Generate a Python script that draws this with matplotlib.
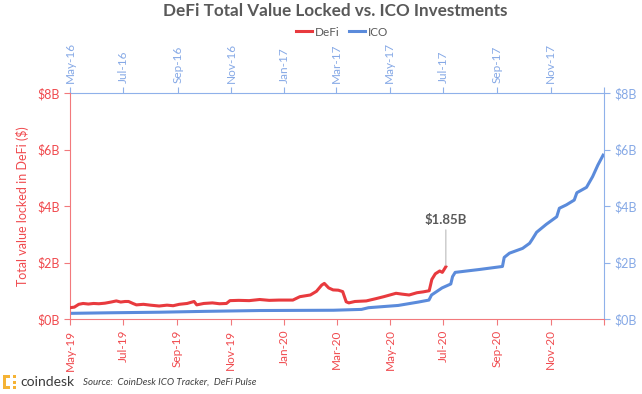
import numpy as np
import pandas as pd
import matplotlib
matplotlib.use("Agg")
from matplotlib import pyplot as plt
import matplotlib.dates as mdates
from matplotlib.ticker import FuncFormatter, MultipleLocator
from matplotlib.patches import Rectangle

plt.rcParams['font.family'] = ['Lato', 'DejaVu Sans']

# DeFi total value locked, billions USD (bottom / left axes)
defi_dates = ["2019-05-01", "2019-05-06", "2019-05-11", "2019-05-16", "2019-05-22", "2019-05-28",
              "2019-06-03", "2019-06-10", "2019-06-17", "2019-06-23", "2019-06-28", "2019-07-03",
              "2019-07-07", "2019-07-12", "2019-07-16", "2019-07-24", "2019-08-01", "2019-08-11",
              "2019-08-20", "2019-08-27", "2019-09-03", "2019-09-12", "2019-09-20", "2019-09-23",
              "2019-10-01", "2019-10-11", "2019-10-19", "2019-10-27", "2019-10-31", "2019-11-10",
              "2019-11-22", "2019-12-04", "2019-12-15", "2019-12-26", "2020-01-11", "2020-01-19",
              "2020-01-31", "2020-02-07", "2020-02-13", "2020-02-16", "2020-02-21", "2020-02-26",
              "2020-03-03", "2020-03-08", "2020-03-12", "2020-03-15", "2020-03-22", "2020-04-04",
              "2020-04-15", "2020-04-24", "2020-05-01", "2020-05-08", "2020-05-15", "2020-05-23",
              "2020-06-01", "2020-06-08", "2020-06-15", "2020-06-18", "2020-06-22", "2020-06-27",
              "2020-06-30", "2020-07-04"]
defi_vals = [0.40, 0.42, 0.52, 0.55, 0.53, 0.55,
             0.54, 0.56, 0.60, 0.64, 0.60, 0.62,
             0.62, 0.55, 0.50, 0.52, 0.49, 0.46,
             0.49, 0.47, 0.52, 0.55, 0.62, 0.50,
             0.55, 0.57, 0.54, 0.55, 0.65, 0.66,
             0.65, 0.69, 0.66, 0.67, 0.67, 0.79,
             0.85, 0.98, 1.20, 1.26, 1.10, 1.03,
             1.02, 0.97, 0.61, 0.57, 0.62, 0.64,
             0.72, 0.79, 0.85, 0.91, 0.88, 0.85,
             0.93, 0.96, 1.00, 1.40, 1.60, 1.70,
             1.65, 1.85]

# ICO investments, billions USD (top / right axes)
ico_dates = ["2016-05-01", "2016-06-15", "2016-08-11", "2016-10-01", "2016-12-04", "2017-02-26",
             "2017-03-30", "2017-04-07", "2017-05-11", "2017-06-03", "2017-06-15", "2017-06-18",
             "2017-06-30", "2017-07-10", "2017-07-12", "2017-07-15", "2017-07-31", "2017-08-11",
             "2017-09-07", "2017-09-09", "2017-09-15", "2017-09-30", "2017-10-08", "2017-10-11",
             "2017-10-16", "2017-10-27", "2017-11-08", "2017-11-11", "2017-11-19", "2017-11-28",
             "2017-12-01", "2017-12-12", "2017-12-19", "2017-12-25", "2017-12-31"]
ico_vals = [0.20, 0.22, 0.24, 0.27, 0.30, 0.31,
            0.34, 0.40, 0.48, 0.60, 0.67, 0.85,
            1.10, 1.24, 1.50, 1.65, 1.71, 1.75,
            1.86, 2.18, 2.33, 2.50, 2.68, 2.82,
            3.07, 3.35, 3.62, 3.92, 4.04, 4.21,
            4.47, 4.66, 5.04, 5.45, 5.80]

title = "DeFi Total Value Locked vs. ICO Investments"
source = "Source:  CoinDesk ICO Tracker,  DeFi Pulse"

red = "#E83A3E"
red_txt = "#F04A4E"
red_spine = "#F2797C"
blue = "#5B8BDB"
blue_txt = "#86A9E6"
blue_spine = "#8FB1EA"
gray = "#595959"

fig = plt.figure(figsize=(6.42, 3.94), dpi=100)
rect = [70 / 642, 1 - 319 / 394, 534 / 642, 226 / 394]
ax = fig.add_axes(rect)
ax2 = fig.add_axes(rect, frameon=False)
ax2.set_zorder(ax.get_zorder() - 1)
ax.patch.set_visible(False)

d_defi = pd.to_datetime(defi_dates)
d_ico = pd.to_datetime(ico_dates)

ax.plot(d_defi, defi_vals, color=red, lw=2.2, label="DeFi", zorder=3)
ax2.plot(d_ico, ico_vals, color=blue, lw=2.2, label="ICO")

# bottom / left
ax.set_xlim(pd.Timestamp("2019-05-01"), pd.Timestamp("2021-01-01"))
ax.set_ylim(0, 8)
ax.xaxis.set_major_locator(mdates.MonthLocator(bymonth=[1, 3, 5, 7, 9, 11]))
ax.xaxis.set_major_formatter(mdates.DateFormatter("%b-%y"))
ax.yaxis.set_major_locator(MultipleLocator(2))
ax.yaxis.set_major_formatter(FuncFormatter(lambda v, p: f"${v:.0f}B"))
ax.tick_params(axis='x', colors=red_spine, labelcolor=red_txt, labelrotation=90,
               labelsize=8.5, length=4, width=0.8)
ax.tick_params(axis='y', colors=red_spine, labelcolor=red_txt, labelsize=9, length=4, width=0.8)
ax.spines['left'].set_color(red_spine)
ax.spines['bottom'].set_color(red_spine)
ax.spines['top'].set_visible(False)
ax.spines['right'].set_visible(False)
ax.set_ylabel("Total value locked in DeFi ($)", color=red_txt, fontsize=9, labelpad=6)

# top / right
ax2.set_xlim(pd.Timestamp("2016-05-01"), pd.Timestamp("2018-01-01"))
ax2.set_ylim(0, 8)
ax2.xaxis.tick_top()
ax2.yaxis.tick_right()
ax2.xaxis.set_major_locator(mdates.MonthLocator(bymonth=[1, 3, 5, 7, 9, 11]))
ax2.xaxis.set_major_formatter(mdates.DateFormatter("%b-%y"))
ax2.yaxis.set_major_locator(MultipleLocator(2))
ax2.yaxis.set_major_formatter(FuncFormatter(lambda v, p: f"${v:.0f}B"))
ax2.tick_params(axis='x', colors=blue_spine, labelcolor=blue_txt, labelrotation=90,
                labelsize=8.5, length=4, width=0.8)
ax2.tick_params(axis='y', colors=blue_spine, labelcolor=blue_txt, labelsize=9, length=4, width=0.8)
ax2.set_frame_on(True)
ax2.patch.set_visible(False)
for s in ['left', 'bottom']:
    ax2.spines[s].set_visible(False)
ax2.spines['top'].set_color(blue_spine)
ax2.spines['right'].set_color(blue_spine)
# hide last (Jan) labels at the axis end
for a in (ax, ax2):
    labels = a.get_xticklabels()
    labels[-1].set_visible(False)

# annotation for last DeFi value
ax.annotate(f"${defi_vals[-1]:.2f}B", xy=(d_defi[-1], defi_vals[-1] + 0.05),
            xytext=(d_defi[-1], defi_vals[-1] + 1.45), ha='center', va='bottom',
            fontsize=9.5, fontweight='bold', color=gray,
            arrowprops=dict(arrowstyle='-', color='#C8C8C8', lw=1, shrinkA=1, shrinkB=0))

fig.text(335 / 642, 1 - 11 / 394, title, ha='center', va='center', fontsize=12.3,
         fontweight='bold', color=gray)

h1, l1 = ax.get_legend_handles_labels()
h2, l2 = ax2.get_legend_handles_labels()
fig.legend(h1 + h2, l1 + l2, loc='center', bbox_to_anchor=(342 / 642, 1 - 32 / 394), ncol=2,
           frameon=False, fontsize=8.5, handlelength=1.4, handletextpad=0.2,
           columnspacing=0.8, labelcolor=gray)

# coindesk logo + source
logo = "#F5B335"
for (x, y, w, h) in [(3, 375, 3, 14), (3, 375, 7, 3), (3, 386, 7, 3),
                     (13, 375, 3, 3), (13, 380.5, 3, 3), (13, 386, 3, 3)]:
    fig.patches.append(Rectangle((x / 642, 1 - (y + h) / 394), w / 642, h / 394,
                                 transform=fig.transFigure, color=logo, lw=0))
fig.text(20 / 642, 1 - 382 / 394, "coindesk", fontsize=10, color="#3A3A3A", va='center', ha='left')
fig.text(83 / 642, 1 - 382 / 394, source, fontsize=7, style='italic', color="#404040",
         va='center', ha='left')

fig.savefig("out.png", dpi=100)
